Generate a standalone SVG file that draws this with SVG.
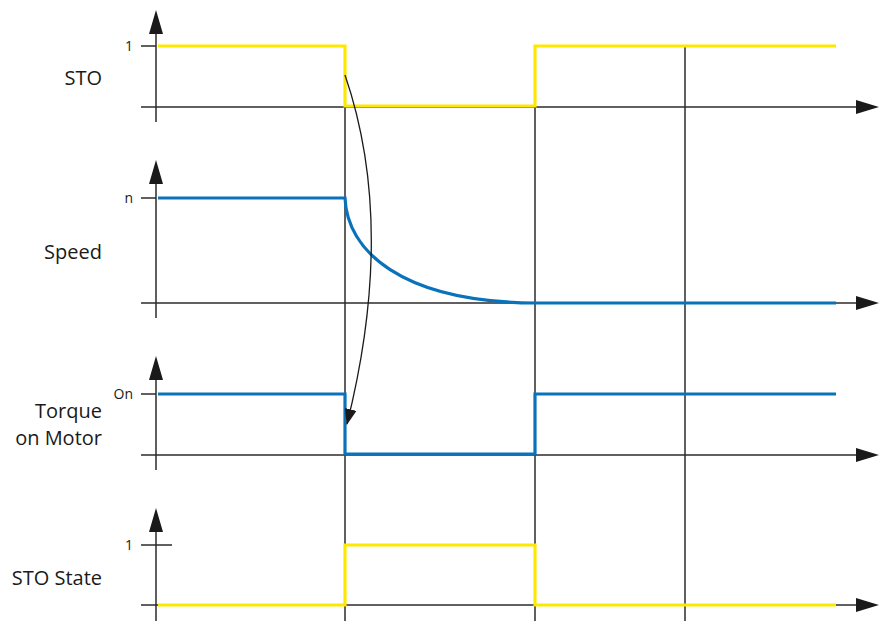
<svg xmlns="http://www.w3.org/2000/svg" width="880" height="636" viewBox="0 0 880 636">
<defs>
<style>
.ax{stroke:#2b2b2b;stroke-width:1.5;fill:none}
.ah{fill:#1a1a1a}
.y{stroke:#FFE800;stroke-width:3.2;fill:none;stroke-linejoin:miter}
.b{stroke:#0A72BA;stroke-width:3.2;fill:none;stroke-linejoin:miter}
.lbl{font-family:"Open Sans","Liberation Sans",sans-serif;font-size:20px;fill:#1a1a1a;text-anchor:end}
.sm{font-family:"Open Sans","Liberation Sans",sans-serif;font-size:14px;fill:#1a1a1a;text-anchor:end}
</style>
<marker id="arr" viewBox="0 0 16 12" refX="15" refY="6" markerWidth="16" markerHeight="12" markerUnits="userSpaceOnUse" orient="auto">
<path d="M0,0 L16,6 L0,12 Z" fill="#1a1a1a"/>
</marker>
</defs>
<rect width="880" height="636" fill="#ffffff"/>

<g id="grid">
<line class="ax" x1="345" y1="46" x2="345" y2="621"/>
<line class="ax" x1="535" y1="46" x2="535" y2="621"/>
<line class="ax" x1="685" y1="46" x2="685" y2="621"/>
</g>

<g id="sto">
<line class="ax" x1="156" y1="30" x2="156" y2="122"/>
<polygon class="ah" points="156,10 149,34 163,34"/>
<line class="ax" x1="141" y1="107" x2="858" y2="107"/>
<polygon class="ah" points="879,107 856,100 856,114"/>
<line class="ax" x1="141" y1="46" x2="156" y2="46"/>
<text class="sm" x="133" y="51">1</text>
<text class="lbl" x="102" y="85">STO</text>
<polyline class="y" points="158,46 345,46 345,106 535,106 535,46 836,46"/>
</g>

<g id="speed">
<line class="ax" x1="156" y1="180" x2="156" y2="318"/>
<polygon class="ah" points="156,160 149,184 163,184"/>
<line class="ax" x1="141" y1="303" x2="858" y2="303"/>
<polygon class="ah" points="879,303 856,296 856,310"/>
<line class="ax" x1="141" y1="198" x2="156" y2="198"/>
<text class="sm" x="133" y="203">n</text>
<text class="lbl" x="102" y="259">Speed</text>
<path class="b" d="M158,198 L345,198 C347,250 400,302 535,303 L836,303"/>
</g>

<g id="torque">
<line class="ax" x1="156" y1="376" x2="156" y2="470"/>
<polygon class="ah" points="156,356 149,380 163,380"/>
<line class="ax" x1="141" y1="455" x2="858" y2="455"/>
<polygon class="ah" points="879,455 856,448 856,462"/>
<line class="ax" x1="141" y1="394" x2="156" y2="394"/>
<text class="sm" x="133" y="399">On</text>
<text class="lbl" x="102" y="418">Torque</text>
<text class="lbl" x="102" y="445">on Motor</text>
<polyline class="b" points="158,394 345,394 345,454 535,454 535,394 836,394"/>
</g>

<g id="sto-state">
<line class="ax" x1="156" y1="528" x2="156" y2="621"/>
<polygon class="ah" points="156,508 149,532 163,532"/>
<line class="ax" x1="141" y1="605" x2="858" y2="605"/>
<polygon class="ah" points="879,605 856,598 856,612"/>
<line class="ax" x1="141" y1="545" x2="172" y2="545"/>
<text class="sm" x="133" y="550">1</text>
<text class="lbl" x="102" y="585">STO State</text>
<polyline class="y" points="158,605 345,605 345,545 535,545 535,605 836,605"/>
</g>

<g id="connectors">
<path d="M345,75 C381,180 378,300 347,424" stroke="#1a1a1a" stroke-width="1.3" fill="none" marker-end="url(#arr)"/>
</g>
</svg>
